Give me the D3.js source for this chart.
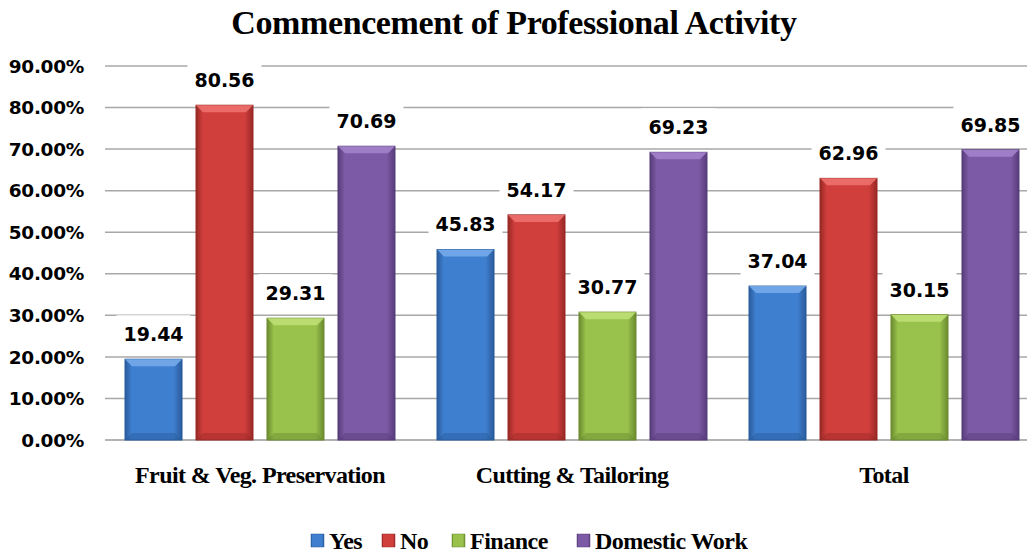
<!DOCTYPE html>
<html>
<head>
<meta charset="utf-8">
<script src="https://cdn.jsdelivr.net/npm/d3@7"></script>
<style>
  body { margin: 0; background: #fff; }
  svg { display: block; }
</style>
</head>
<body>
<svg id="chart" width="1027" height="557"></svg>
<script>
// data
const categories = ['Fruit & Veg. Preservation', 'Cutting & Tailoring', 'Total']
const series = ['Yes', 'No', 'Finance', 'Domestic Work']
const yes = [19.44, 45.83, 37.04]
const no = [80.56, 54.17, 62.96]
const finance = [29.31, 30.77, 30.15]
const domestic = [70.69, 69.23, 69.85]
const yTicks = [0, 10, 20, 30, 40, 50, 60, 70, 80, 90]

const values = [yes, no, finance, domestic]
const palette = {
  'Yes': { base: '#3f7fcf', light: '#76abea', dark: '#2a5b9c' },
  'No': { base: '#d13f3c', light: '#ec706d', dark: '#972826' },
  'Finance': { base: '#98c24b', light: '#bedf74', dark: '#6b8a30' },
  'Domestic Work': { base: '#7d5aa5', light: '#a382cc', dark: '#573c7a' }
}

const svg = d3.select('#chart')
const numFont = 'DejaVu Sans, Verdana, sans-serif'
const serif = 'Liberation Serif, Times New Roman, serif'

var data = []
categories.forEach((c, i) => {
  series.forEach((s, j) => {
    data.push({ cat: c, key: s, value: values[j][i] })
  })
})

const x0 = d3.scaleBand().domain(categories).range([104, 1040])
const x1 = d3.scaleBand().domain(series).range([0, x0.bandwidth()])
  .paddingInner(0.197).paddingOuter(0.296)
const y = d3.scaleLinear().domain([0, 90]).range([440, 66])

// gradients
const defs = svg.append('defs')
series.forEach((s, i) => {
  const p = palette[s]
  const g = defs.append('linearGradient').attr('id', 'grad' + i)
    .attr('x1', '0%').attr('x2', '100%').attr('y1', '0%').attr('y2', '0%')
  g.append('stop').attr('offset', '0%').attr('stop-color', p.dark)
  g.append('stop').attr('offset', '12%').attr('stop-color', p.base)
  g.append('stop').attr('offset', '85%').attr('stop-color', p.base)
  g.append('stop').attr('offset', '100%').attr('stop-color', p.dark)
})

svg.append('text')
  .attr('x', 514)
  .attr('y', 34)
  .attr('text-anchor', 'middle')
  .style('font-family', serif)
  .style('font-weight', 'bold')
  .style('font-size', '34px')
  .style('letter-spacing', '-0.4px')
  .text('Commencement of Professional Activity')

// gridlines
svg.append('g')
  .selectAll('line')
  .data(yTicks)
  .enter()
  .append('line')
  .attr('x1', 105)
  .attr('x2', 1027)
  .attr('y1', d => y(d))
  .attr('y2', d => y(d))
  .attr('stroke', d => d === 0 ? '#9a9a9a' : '#a8a8a8')
  .attr('stroke-width', 1.5)

svg.append('g')
  .selectAll('text')
  .data(yTicks)
  .enter()
  .append('text')
  .attr('x', 84)
  .attr('y', d => y(d))
  .attr('dy', '0.36em')
  .attr('text-anchor', 'end')
  .style('font-family', numFont)
  .style('font-weight', 'bold')
  .style('font-size', '18.5px')
  .style('letter-spacing', '-0.3px')
  .text(d => d3.format('.2f')(d) + '%')

// bars
const bars = svg.append('g')
  .selectAll('g')
  .data(data)
  .enter()
  .append('g')

const bx = d => x0(d.cat) + x1(d.key)
const bw = x1.bandwidth()
const bev = 7

bars.append('rect')
  .attr('x', bx)
  .attr('y', d => y(d.value))
  .attr('width', bw)
  .attr('height', d => y(0) - y(d.value))
  .attr('fill', d => 'url(#grad' + series.indexOf(d.key) + ')')
  .attr('stroke', d => palette[d.key].dark)
  .attr('stroke-width', 1)

// top bevel
bars.append('path')
  .attr('d', d => {
    const xl = bx(d), xr = bx(d) + bw, t = y(d.value)
    return `M${xl},${t}L${xr},${t}L${xr - bev},${t + bev}L${xl + bev},${t + bev}Z`
  })
  .attr('fill', d => palette[d.key].light)
  .attr('opacity', 0.9)

// bottom bevel
bars.append('path')
  .attr('d', d => {
    const xl = bx(d), xr = bx(d) + bw, b = y(0)
    return `M${xl},${b}L${xr},${b}L${xr - bev},${b - bev}L${xl + bev},${b - bev}Z`
  })
  .attr('fill', d => palette[d.key].dark)
  .attr('opacity', 0.45)

// value labels with white boxes (they break the gridlines like the original)
const labels = svg.append('g')
  .selectAll('g')
  .data(data)
  .enter()
  .append('g')
  .attr('transform', d => `translate(${bx(d) + bw / 2},${y(d.value) - 25})`)

labels.append('rect')
  .attr('x', -37)
  .attr('y', -19)
  .attr('width', 74)
  .attr('height', 36)
  .attr('fill', '#fff')

labels.append('text')
  .attr('text-anchor', 'middle')
  .attr('dy', '0.36em')
  .style('font-family', numFont)
  .style('font-weight', 'bold')
  .style('font-size', '19px')
  .text(d => d3.format('.2f')(d.value))

// category labels
svg.append('g')
  .selectAll('text')
  .data(categories)
  .enter()
  .append('text')
  .attr('x', d => x0(d) + x0.bandwidth() / 2)
  .attr('y', 483)
  .attr('text-anchor', 'middle')
  .style('font-family', serif)
  .style('font-weight', 'bold')
  .style('font-size', '24px')
  .style('letter-spacing', '-0.6px')
  .text(d => d)

// legend
const legendX = [311, 382, 452, 577]
const legend = svg.append('g')
  .selectAll('g')
  .data(series)
  .enter()
  .append('g')
  .attr('transform', (d, i) => `translate(${legendX[i]},541)`)

legend.append('rect')
  .attr('x', 0)
  .attr('y', -7)
  .attr('width', 13)
  .attr('height', 13)
  .attr('fill', (d, i) => 'url(#grad' + i + ')')
  .attr('stroke', d => palette[d].dark)
  .attr('stroke-width', 0.5)

legend.append('text')
  .attr('x', 18)
  .attr('dy', '0.35em')
  .style('font-family', serif)
  .style('font-weight', 'bold')
  .style('font-size', '24px')
  .style('letter-spacing', '-0.5px')
  .text(d => d)
</script>
</body>
</html>
